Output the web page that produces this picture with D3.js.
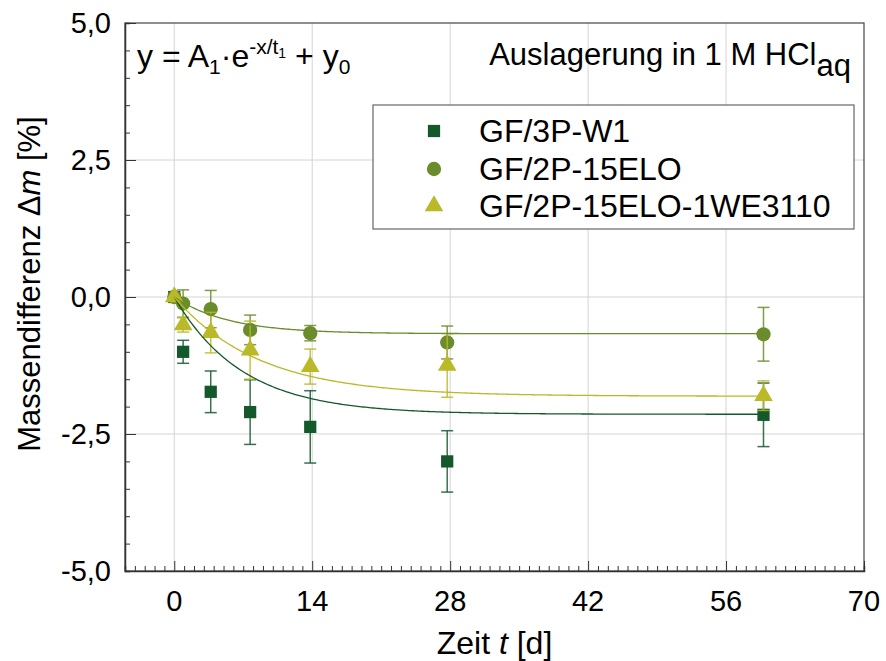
<!DOCTYPE html>
<html>
<head>
<meta charset="utf-8">
<script src="https://cdn.jsdelivr.net/npm/d3@7"></script>
<style>
  html, body { margin: 0; padding: 0; background: #fff; }
  svg text { font-family: "Liberation Sans", Arial, sans-serif; fill: #000; }
</style>
</head>
<body>
<svg id="chart" width="886" height="661"></svg>
<script>
// Exposure time in days
const days = [0, 0.9, 3.7, 7.7, 13.8, 27.7, 59.8];

// Mass change [%] and standard deviation per sample
const w1Values   = [0, -1.00, -1.73, -2.10, -2.37, -3.00, -2.15];
const w1Err      = [0,  0.21,  0.38,  0.59,  0.66,  0.56,  0.58];
const eloValues  = [0, -0.12, -0.22, -0.60, -0.66, -0.83, -0.68];
const eloErr     = [0,  0.25,  0.34,  0.27,  0.14,  0.30,  0.49];
const weValues   = [0, -0.51, -0.65, -0.97, -1.27, -1.25, -1.80];
const weErr      = [0,  0.13,  0.37,  0.53,  0.32,  0.58,  0.27];

// Exponential fit parameters y = A1*exp(-x/t1) + y0
const fitA1 = [2.14, 0.67, 1.81];
const fitT1 = [6.9, 5.5, 8.6];
const fitY0 = [-2.14, -0.67, -1.81];

const seriesNames = ["GF/3P-W1", "GF/2P-15ELO", "GF/2P-15ELO-1WE3110"];
const xTicks = [0, 14, 28, 42, 56, 70];
const yTicks = [-5, -2.5, 0, 2.5, 5];

const colors = ["#14592c", "#6a8c2a", "#bab928"];
const symbols = [d3.symbolSquare, d3.symbolCircle, d3.symbolTriangle];
const symSizes = [150, 160, 150];

const series = [
  { name: seriesNames[0], values: w1Values, err: w1Err },
  { name: seriesNames[1], values: eloValues, err: eloErr },
  { name: seriesNames[2], values: weValues, err: weErr }
];

const svg = d3.select("#chart");
const m = { left: 125, right: 864, top: 23, bottom: 571 };

const x = d3.scaleLinear().domain([-5, 70]).range([m.left, m.right]);
const y = d3.scaleLinear().domain([-5, 5]).range([m.bottom, m.top]);

const fmt = v => d3.format(".1f")(v).replace(".", ",").replace("−", "-");

// grid
const grid = svg.append("g").attr("stroke", "#d4d4d4").attr("stroke-width", 1);
xTicks.filter(t => t < 70).forEach(t => {
  grid.append("line").attr("x1", x(t)).attr("x2", x(t)).attr("y1", m.top).attr("y2", m.bottom);
});
yTicks.filter(t => t > -5 && t < 5).forEach(t => {
  grid.append("line").attr("x1", m.left).attr("x2", m.right).attr("y1", y(t)).attr("y2", y(t));
});

// frame
svg.append("rect")
  .attr("x", m.left).attr("y", m.top)
  .attr("width", m.right - m.left).attr("height", m.bottom - m.top)
  .attr("fill", "none").attr("stroke", "#444").attr("stroke-width", 1.2);

// x axis ticks (inward)
const xAxis = d3.axisTop(x)
  .tickValues(d3.range(-5, 71, 1))
  .tickSize(5).tickFormat("");
const gx = svg.append("g").attr("transform", `translate(0,${m.bottom})`).call(xAxis);
gx.select(".domain").attr("stroke", "#333").attr("stroke-width", 1.5);
gx.selectAll(".tick line").attr("stroke", "#333")
  .attr("y2", d => xTicks.includes(d) ? -10 : -5);

svg.append("g").selectAll("text").data(xTicks).join("text")
  .attr("x", d => x(d)).attr("y", 611)
  .attr("text-anchor", "middle").attr("font-size", 29)
  .text(d => d);

// y axis ticks (inward)
const yAxis = d3.axisRight(y)
  .tickValues(d3.range(-5, 5.01, 0.5))
  .tickSize(5).tickFormat("");
const gy = svg.append("g").attr("transform", `translate(${m.left},0)`).call(yAxis);
gy.select(".domain").attr("stroke", "#333").attr("stroke-width", 1.5);
gy.selectAll(".tick line").attr("stroke", "#333")
  .attr("x2", d => yTicks.some(t => Math.abs(t - d) < 1e-6) ? 11 : 5);

svg.append("g").selectAll("text").data(yTicks).join("text")
  .attr("x", 111).attr("y", d => y(d))
  .attr("dy", "0.36em")
  .attr("text-anchor", "end").attr("font-size", 29)
  .text(d => fmt(d));

// axis titles
const xt = svg.append("text").attr("x", (m.left + m.right) / 2).attr("y", 654)
  .attr("text-anchor", "middle").attr("font-size", 32);
xt.append("tspan").text("Zeit ");
xt.append("tspan").attr("font-style", "italic").text("t");
xt.append("tspan").text(" [d]");

const yt = svg.append("text")
  .attr("transform", `translate(40,284) rotate(-90)`)
  .attr("text-anchor", "middle").attr("font-size", 31);
yt.append("tspan").text("Massendifferenz \u0394");
yt.append("tspan").attr("font-style", "italic").text("m");
yt.append("tspan").text(" [%]");

// plot content
const plot = svg.append("g");

series.forEach((s, i) => {
  const g = plot.append("g");
  const pts = days.map((d, j) => ({ d, v: s.values[j], e: s.err[j] }));
  // error bars
  pts.filter(p => p.e > 0).forEach(p => {
    const cx = x(p.d);
    g.append("line").attr("x1", cx).attr("x2", cx)
      .attr("y1", y(p.v + p.e)).attr("y2", y(p.v - p.e))
      .attr("stroke", colors[i]).attr("stroke-width", 1.5).attr("stroke-opacity", 0.85);
    [p.v + p.e, p.v - p.e].forEach(yy => {
      g.append("line").attr("x1", cx - 6).attr("x2", cx + 6)
        .attr("y1", y(yy)).attr("y2", y(yy))
        .attr("stroke", colors[i]).attr("stroke-width", 1.5).attr("stroke-opacity", 0.85);
    });
  });
  // markers
  g.selectAll("path.pt").data(pts).join("path")
    .attr("class", "pt")
    .attr("transform", p => `translate(${x(p.d)},${y(p.v)})`)
    .attr("d", d3.symbol().type(symbols[i]).size(symSizes[i]))
    .attr("fill", colors[i]);
});

// fitted curves
series.forEach((s, i) => {
  const xs = d3.range(0, days[days.length - 1] + 0.001, 0.2);
  const line = d3.line()
    .x(t => x(t))
    .y(t => y(fitA1[i] * Math.exp(-t / fitT1[i]) + fitY0[i]));
  plot.append("path").datum(xs)
    .attr("d", line).attr("fill", "none")
    .attr("stroke", colors[i]).attr("stroke-width", 1.3);
});

// equation
const eq = svg.append("text").attr("x", 137).attr("y", 67).attr("font-size", 32);
eq.append("tspan").text("y = A");
eq.append("tspan").attr("font-size", 21).attr("dy", 7).text("1");
eq.append("tspan").attr("dy", -7).text("\u00B7e");
eq.append("tspan").attr("font-size", 21).attr("dy", -13).text("-x/t");
eq.append("tspan").attr("font-size", 14).attr("dy", 4).text("1");
eq.append("tspan").attr("dy", 9).text(" + y");
eq.append("tspan").attr("font-size", 21).attr("dy", 7).text("0");

// condition label
const cond = svg.append("text").attr("x", 851).attr("y", 65)
  .attr("text-anchor", "end").attr("font-size", 31);
cond.append("tspan").text("Auslagerung in 1 M HCl");
cond.append("tspan").attr("dy", 11).text("aq");

// legend
const lg = svg.append("g");
lg.append("rect").attr("x", 373).attr("y", 105).attr("width", 481).attr("height", 124)
  .attr("fill", "#fff").attr("stroke", "#666").attr("stroke-width", 1.2);
const rowY = [131, 169, 206];
series.forEach((s, i) => {
  lg.append("path")
    .attr("transform", `translate(434,${rowY[i]})`)
    .attr("d", d3.symbol().type(symbols[i]).size(symSizes[i]))
    .attr("fill", colors[i]);
  lg.append("text").attr("x", 479).attr("y", rowY[i] + 11)
    .attr("font-size", 32).text(s.name);
});
</script>
</body>
</html>
